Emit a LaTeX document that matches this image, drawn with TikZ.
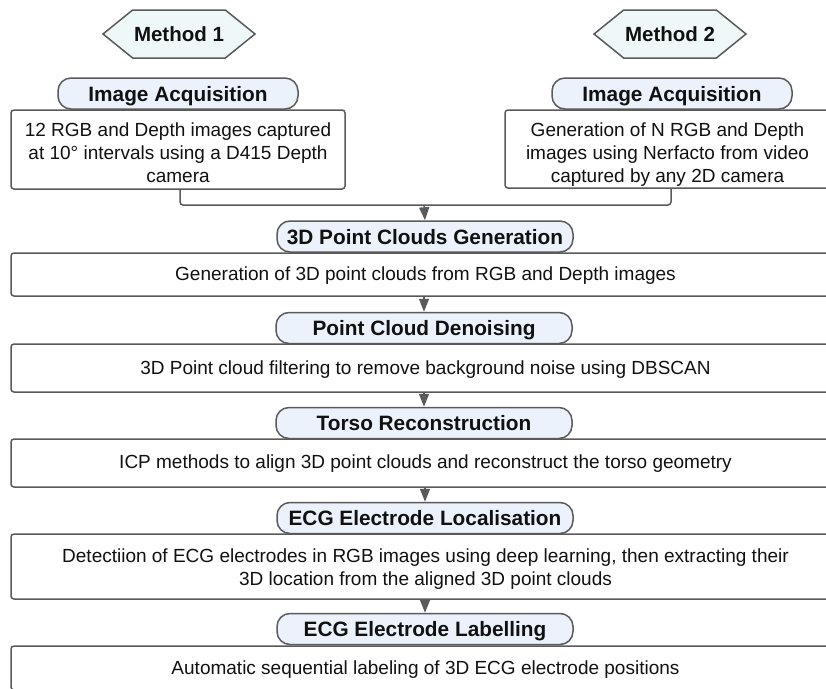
\documentclass[tikz,border=0pt]{standalone}
\usepackage{fontspec}
\setmainfont{Liberation Sans}
\usetikzlibrary{shapes.symbols,arrows.meta}

\definecolor{edge}{HTML}{5A5A5A}
\definecolor{pillfill}{HTML}{EBF2FC}
\definecolor{hexfill}{HTML}{EEF8F8}
\definecolor{ink}{HTML}{111111}

\tikzset{
  every node/.style={text=ink},
  methodhex/.style={signal, signal to=west and east, signal pointer angle=78,
    draw=edge, line width=1.5pt, fill=hexfill, minimum width=152pt,
    minimum height=48pt, inner sep=0pt, font=\bfseries\fontsize{20.5}{24}\selectfont},
  pill/.style={rectangle, rounded corners=13pt, draw=edge, line width=1.5pt,
    fill=pillfill, minimum height=31pt, inner sep=0pt, text height=15pt, text depth=0pt,
    font=\bfseries\fontsize{20.8}{24}\selectfont},
  stepbox/.style={rectangle, rounded corners=3pt, draw=edge, line width=1.5pt,
    fill=white, inner sep=0pt},
  bodytext/.style={inner sep=0pt, align=center, font=\fontsize{19}{23}\selectfont},
  flow/.style={draw=edge, line width=1.5pt},
  tip/.style={flow, -{Triangle[length=13pt,width=10pt]}},
}

\begin{document}
\begin{tikzpicture}[x=1pt,y=-1pt]
\clip (0,0) rectangle (826,688);
\fill[white] (0,0) rectangle (826,688);

% method headers
\node[methodhex] (m1) at (179,34) {Method 1};
\node[methodhex] (m2) at (670,34) {Method 2};

% acquisition boxes for the two methods
\node[stepbox, minimum width=334pt, minimum height=79pt] (boxL) at (178,149.5) {};
\node[stepbox, minimum width=325pt, minimum height=78pt] (boxR) at (667.5,149) {};
\node[bodytext] (tL) at (178,152.5)
  {12 RGB and Depth images captured\\at 10\textdegree{} intervals using a D415 Depth\\camera};
\node[bodytext] (tR) at (667.5,155)
  {Generation of N RGB and Depth\\images using Nerfacto from video\\captured by any 2D camera};

% shared processing steps
\node[stepbox, minimum width=829pt, minimum height=43pt] (b1) at (425.5,274.5) {};
\node[stepbox, minimum width=829pt, minimum height=48pt] (b2) at (425.5,368) {};
\node[stepbox, minimum width=829pt, minimum height=48pt] (b3) at (425.5,463) {};
\node[stepbox, minimum width=829pt, minimum height=65pt] (b4) at (425.5,566.5) {};
\node[stepbox, minimum width=829pt, minimum height=44pt] (b5) at (425.5,668) {};

\node[bodytext] (t1) at (425.5,275.5)
  {Generation of 3D point clouds from RGB and Depth images};
\node[bodytext] (t2) at (425.5,370)
  {3D Point cloud filtering to remove background noise using DBSCAN};
\node[bodytext] (t3) at (425.5,464)
  {ICP methods to align 3D point clouds and reconstruct the torso geometry};
\node[bodytext] (t4) at (425.5,569.5)
  {Detectiion of ECG electrodes in RGB images using deep learning, then extracting their\\3D location from the aligned 3D point clouds};
\node[bodytext] (t5) at (425.5,670)
  {Automatic sequential labeling of 3D ECG electrode positions};

% step titles
\node[pill, minimum width=240pt] (pL) at (178,93.5) {Image Acquisition};
\node[pill, minimum width=240pt] (pR) at (672,93.5) {Image Acquisition};
\node[pill, minimum width=296pt] (p1) at (425,236.5) {3D Point Clouds Generation};
\node[pill, minimum width=296pt] (p2) at (424,328) {Point Cloud Denoising};
\node[pill, minimum width=296pt] (p3) at (424,423) {Torso Reconstruction};
\node[pill, minimum width=296pt] (p4) at (425,518) {ECG Electrode Localisation};
\node[pill, minimum width=296pt] (p5) at (425,629) {ECG Electrode Labelling};

% merge of the two acquisition branches
\coordinate (join) at (424,205);
\draw[flow, rounded corners=3pt] ([xshift=2pt]boxL.south) |- (join) -| ([xshift=3.5pt]boxR.south);
\draw[tip] (join) -- (p1.north);

% sequential arrows
\draw[tip] (b1.south -| p2.north) -- (p2.north);
\draw[tip] (b2.south -| p3.north) -- (p3.north);
\draw[tip] (b3.south -| p4.north) -- (p4.north);
\draw[tip] (b4.south -| p5.north) -- (p5.north);
\end{tikzpicture}
\end{document}
